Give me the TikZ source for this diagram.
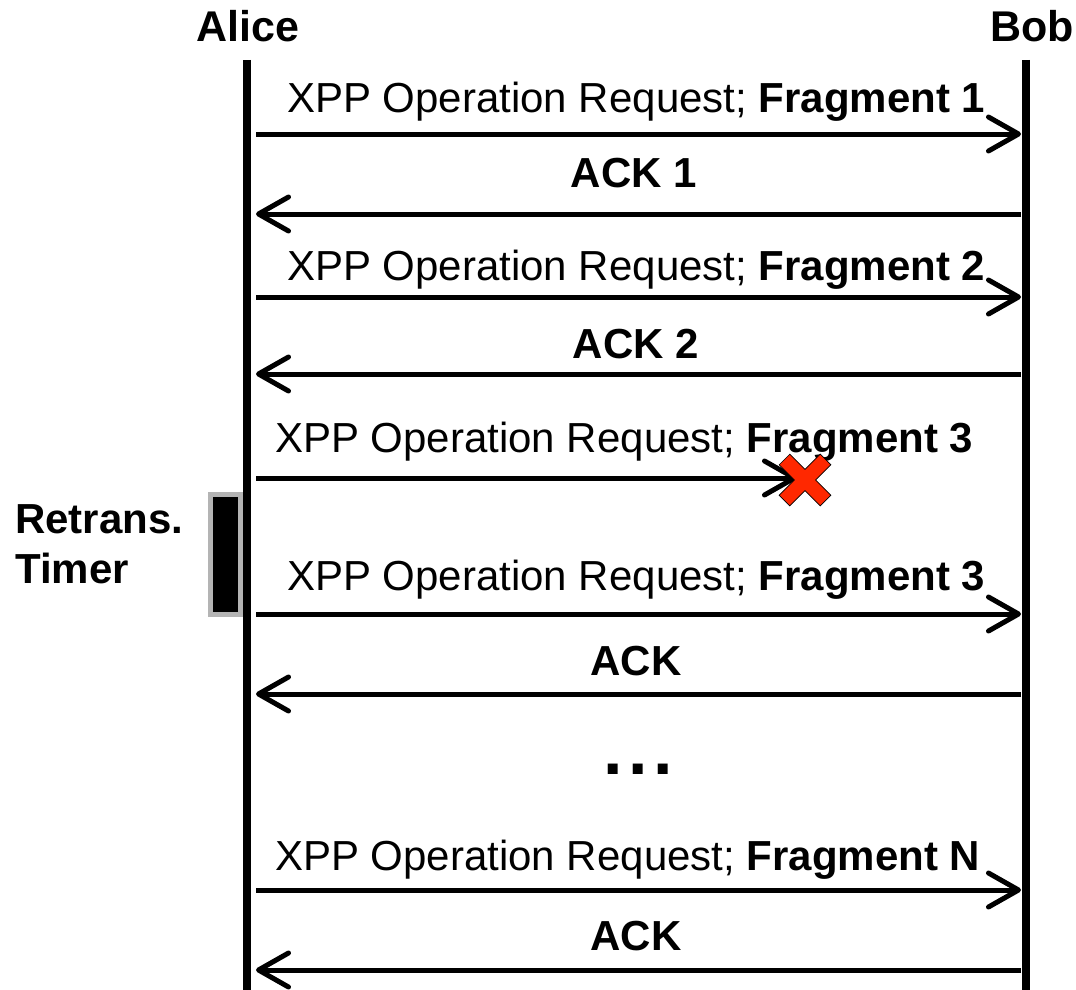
\documentclass[tikz,border=0pt]{standalone}
\usepackage{fontspec}
\setmainfont{Liberation Sans}
\usetikzlibrary{arrows.meta}
\definecolor{xred}{RGB}{255,40,0}
\definecolor{tgray}{RGB}{180,180,180}
\begin{document}
\begin{tikzpicture}[x=1pt,y=-1pt,
  lifeline/.style={line width=8pt},
  msg/.style={line width=5pt,-{Straight Barb[length=30pt,width=34pt,round]}},
  lbl/.style={font=\fontsize{42}{50}\selectfont,inner sep=0pt,anchor=base west},
  acklbl/.style={font=\fontsize{42}{50}\selectfont\bfseries,inner sep=0pt,anchor=base},
  actor/.style={font=\fontsize{43}{50}\selectfont\bfseries,inner sep=0pt,anchor=base}]
\useasboundingbox (0,0) rectangle (1076,990);
% actors
\node[actor] (alice) at (248,42) {Alice};
\node[actor] (bob) at (1032,42) {Bob};
% lifelines
\coordinate (atop) at (247,60);
\coordinate (abot) at (247,990);
\coordinate (btop) at (1026,60);
\coordinate (bbot) at (1026,990);
\draw[lifeline] (atop) -- (abot);
\draw[lifeline] (btop) -- (bbot);
% message endpoints
\foreach \n/\y in {1/134,2/214,3/297,4/374,5/478,6/614,7/694,8/890,9/970}{
  \coordinate (l\n) at (256,\y);
  \coordinate (r\n) at (1021,\y);
}
\coordinate (lost) at (797,478);
% messages
\draw[msg] (l1) -- (r1);
\draw[msg] (r2) -- (l2);
\draw[msg] (l3) -- (r3);
\draw[msg] (r4) -- (l4);
\draw[msg] (l5) -- (lost);
\draw[msg] (l6) -- (r6);
\draw[msg] (r7) -- (l7);
\draw[msg] (l8) -- (r8);
\draw[msg] (r9) -- (l9);
% labels
\node[lbl] (m1) at (287,112) {XPP Operation Request; \textbf{Fragment 1}};
\node[acklbl] (k1) at (634,187) {ACK 1};
\node[lbl] (m2) at (287,280) {XPP Operation Request; \textbf{Fragment 2}};
\node[acklbl] (k2) at (636,358) {ACK 2};
\node[lbl] (m3) at (275,452) {XPP Operation Request; \textbf{Fragment 3}};
\node[lbl] (m4) at (287,590) {XPP Operation Request; \textbf{Fragment 3}};
\node[acklbl] (k3) at (636,675) {ACK};
\node[inner sep=0pt,anchor=base,font=\fontsize{70}{80}\selectfont\bfseries] (dots) at (638,774) {.\hspace{5.5pt}.\hspace{5.5pt}.};
\node[lbl] (m5) at (275,870) {XPP Operation Request; \textbf{Fragment N}};
\node[acklbl] (k4) at (636,950) {ACK};
% retransmission timer
\node[font=\fontsize{42}{50}\selectfont\bfseries,inner sep=0pt,anchor=base west] (rt1) at (15,533) {Retrans.};
\node[font=\fontsize{42}{50}\selectfont\bfseries,inner sep=0pt,anchor=base west] (rt2) at (15,583) {Timer};
\draw[tgray,fill=black,line width=5pt] (210,494) rectangle (240,614);
% lost marker
\begin{scope}[shift={(805,480)},rotate=45]
\filldraw[fill=xred,draw=black,line width=0.7pt]
  (7.5,29) -- (7.5,7.5) -- (29,7.5) -- (29,-7.5) -- (7.5,-7.5) -- (7.5,-29)
  -- (-7.5,-29) -- (-7.5,-7.5) -- (-29,-7.5) -- (-29,7.5) -- (-7.5,7.5) -- (-7.5,29) -- cycle;
\end{scope}
\end{tikzpicture}
\end{document}
